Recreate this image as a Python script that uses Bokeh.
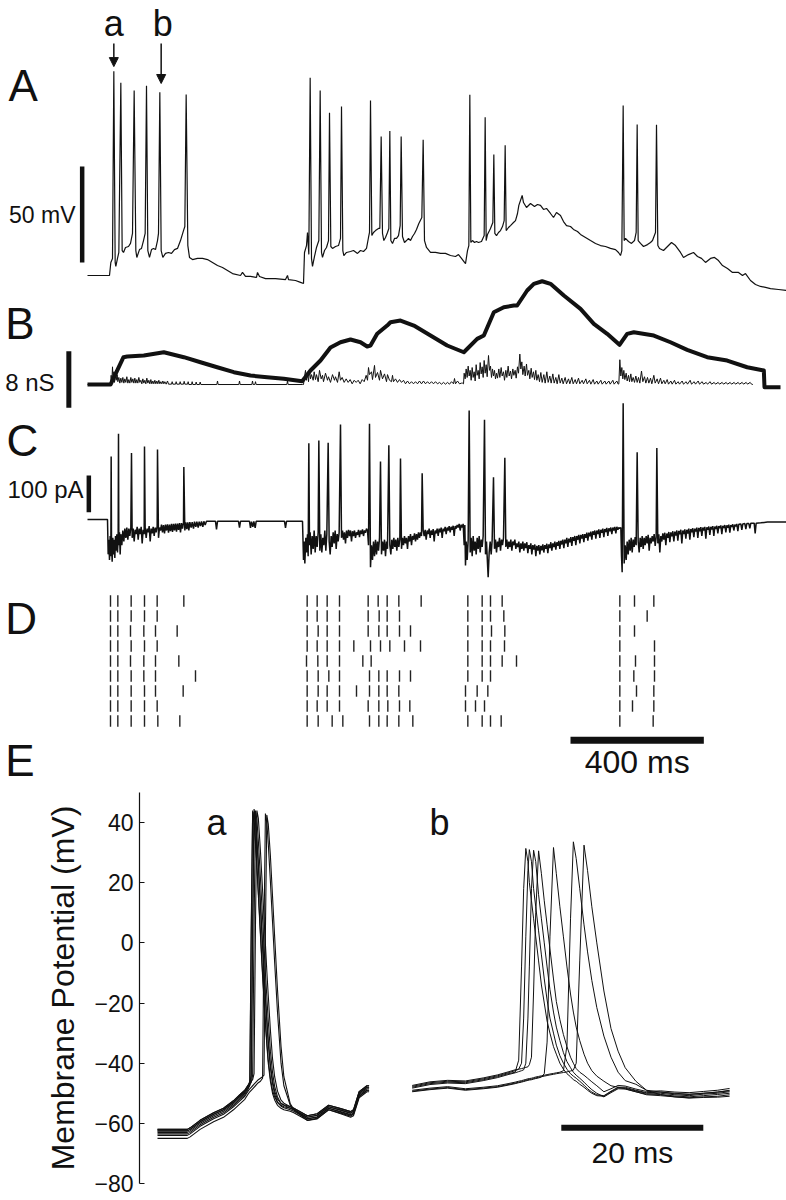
from bokeh.plotting import figure
from bokeh.models import Range1d, LinearAxis, FixedTicker, Label, Arrow, NormalHead
from bokeh.layouts import column, row
from bokeh.embed import file_html
from bokeh.resources import INLINE

FONT = "Liberation Sans"
INK = "#111111"

# ---------------- Panel A : membrane potential (time ms, mV) ----------------
a_base = [(0,-63.0),(66,-63.0),(70,-56.2),(75,-54.1),(83,-56.2),(85,-58.3),(90,-54.1),(94,-51.0),(104,-50.0),(108,-51.0),
(114,-48.4),(123,-47.9),(129,-46.3),(135,-41.1),(145,-50.0),(148,-53.6),(156,-49.5),(162,-48.9),(168,-44.8),(173,-41.1),
(181,-50.0),(186,-53.6),(192,-49.5),(198,-48.9),(204,-49.5),(210,-44.8),(213,-41.1),(221,-50.0),(226,-53.6),(234,-51.5),
(243,-51.0),(252,-51.5),(261,-49.5),(270,-48.9),(279,-44.8),(288,-39.6),(292,-37.5),(301,-47.4),(306,-53.6),(315,-54.7),
(330,-54.1),(345,-54.1),(360,-54.7),(375,-56.2),(390,-57.8),(405,-58.8),(420,-60.4),(435,-62.0),(459,-63.0),(465,-61.4),
(474,-63.5),(489,-63.5),(507,-64.0),(510,-61.4),(516,-63.5),(534,-64.6),(564,-64.6),(594,-65.1),(600,-63.0),(603,-65.1),
(624,-65.6),(639,-66.6),(648,-67.2),(651,-51.0),(657,-47.4),(660,-40.6),(664,-52.0),(672,-54.1),(675,-58.3),(681,-53.1),
(687,-48.4),(694,-44.8),(702,-51.0),(705,-53.6),(711,-50.0),(717,-48.4),(723,-44.8),(730,-47.9),(735,-48.9),(744,-47.9),
(753,-47.4),(759,-43.7),(766,-50.0),(769,-52.6),(777,-51.0),(789,-50.5),(798,-50.0),(810,-51.5),(819,-50.0),(828,-50.5),
(837,-48.9),(843,-43.2),(846,-40.6),(853,-42.2),(858,-40.6),(864,-39.6),(873,-38.5),(877,-38.5),(885,-41.1),(889,-44.8),
(894,-43.2),(900,-40.6),(904,-38.5),(910,-44.8),(915,-46.3),(921,-43.7),(927,-43.7),(933,-42.2),(938,-37.0),(945,-42.7),
(951,-45.8),(957,-44.8),(963,-43.7),(969,-44.8),(975,-42.7),(981,-41.1),(987,-39.0),(994,-35.9),(1003,-32.8),(1011,-44.8),
(1017,-48.4),(1029,-51.0),(1044,-51.0),(1059,-51.5),(1074,-51.5),(1089,-52.6),(1104,-53.1),(1113,-52.1),(1122,-54.1),(1131,-56.2),
(1134,-56.8),(1140,-50.0),(1144,-47.4),(1150,-45.8),(1155,-44.8),(1161,-45.8),(1167,-45.3),(1173,-45.8),(1182,-45.3),(1190,-42.2),
(1196,-44.8),(1200,-41.6),(1206,-39.6),(1209,-38.5),(1216,-35.4),(1222,-41.1),(1227,-42.2),(1233,-40.6),(1239,-39.6),(1245,-37.5),
(1250,-34.4),(1256,-39.6),(1263,-38.0),(1269,-37.0),(1278,-35.4),(1284,-34.4),(1290,-30.7),(1294,-26.5),(1304,-21.3),(1308,-25.0),
(1317,-27.6),(1329,-25.5),(1341,-27.1),(1350,-26.0),(1359,-26.5),(1368,-28.6),(1377,-28.1),(1389,-30.7),(1398,-32.8),(1407,-30.2),
(1419,-31.8),(1428,-34.9),(1437,-37.0),(1449,-37.5),(1458,-39.0),(1470,-40.1),(1479,-41.6),(1494,-43.2),(1509,-44.8),(1524,-46.3),
(1539,-47.4),(1554,-47.9),(1569,-48.9),(1584,-49.5),(1593,-51.0),(1599,-52.6),(1603,-50.0),(1610,-44.8),(1614,-43.7),(1623,-45.3),
(1632,-46.3),(1641,-44.8),(1646,-40.6),(1652,-44.8),(1659,-46.3),(1668,-47.9),(1680,-46.9),(1689,-45.8),(1695,-44.8),(1704,-40.6),
(1711,-47.4),(1716,-48.9),(1728,-50.0),(1740,-47.9),(1752,-45.8),(1764,-47.4),(1779,-51.0),(1788,-53.6),(1803,-52.1),(1818,-51.0),
(1830,-53.1),(1842,-54.1),(1854,-56.2),(1869,-54.1),(1881,-53.6),(1893,-55.2),(1905,-57.8),(1920,-59.4),(1935,-61.4),(1953,-61.4),
(1965,-63.0),(1974,-62.0),(1989,-65.6),(2004,-67.7),(2019,-68.7),(2034,-69.2),(2049,-69.8),(2073,-70.3),(2097,-70.8)]
a_spike_t = [79,100,140,177,217,296,668,698,726,762,849,881,907,941,1007,1147,1193,1219,1253,1607,1649,1707]
a_spike_v = [43.4,37.4,33.3,35.8,32.5,31.3,40.0,33.3,21.7,25.0,28.1,9.4,12.2,9.4,7.7,31.1,19.4,0.0,4.9,25.5,15.6,15.5]

# ---------------- Panel B : conductance (time ms, nS) ----------------
b_thick = [(0,0),(69,0),(108,3.86),(119,3.95),(169,4.10),(229,4.56),(289,3.86),(339,3.15),(389,2.44),(439,1.74),(489,1.27),
(539,1.03),(589,0.81),(644,0.47),(669,1.98),(699,3.39),(729,5.23),(759,5.97),(789,6.36),(819,5.97),(839,5.37),(849,5.5),
(869,7.16),(899,8.33),(909,8.80),(939,9.04),(979,8.33),(1029,6.92),(1079,5.51),(1129,4.56),(1169,6.45),(1189,6.92),(1219,10.21),
(1249,10.92),(1279,11.16),(1289,11.16),(1319,13.28),(1339,14.22),(1364,14.59),(1389,14.22),(1429,12.57),(1479,10.69),(1519,8.57),
(1559,7.16),(1596,5.61),(1619,7.16),(1639,7.39),(1699,6.92),(1749,5.97),(1799,4.90),(1859,3.86),(1919,3.39),(1979,2.44),
(2029,1.98),(2031,-0.38),(2079,-0.38)]
b_thin = [(0,0),(69,0),(71,1.3),(73,0.3),(75,2.5),(77,0.6),(79,1.8),(81,0.3),(84,2.0),(86,0.6),(89,1.4),(91,0.4),(94,1.0),(97,0.2),
(100,0.9),(103,0.3),(106,1.0),(109,0.2),(112,0.8),(115,0.3),(118,1.1),(121,0.2),(124,0.7),(127,0.2),(130,1.0),(133,0.3),(136,0.8),
(139,0.2),(142,0.9),(145,0.2),(148,0.7),(151,0.2),(154,1.0),(157,0.3),(160,0.6),(163,0.1),(166,0.8),(169,0.2),(172,0.6),(175,0.1),
(178,0.9),(181,0.2),(184,0.6),(187,0.1),(190,0.7),(193,0.1),(196,0.5),(199,0.1),(202,0.6),(205,0.1),(208,0.5),(211,0.1),(214,0.6),
(217,0.1),(220,0.4),(223,0.1),(226,0.5),(229,0.1),(232,0.4),(236,0.05),(240,0.5),(243,0.05),(252,0.05),(254,0.4),(256,0.05),
(264,0.05),(266,0.4),(268,0.05),(276,0.05),(278,0.4),(280,0.05),(288,0.05),(290,0.45),(292,0.05),(300,0.05),(302,0.4),(304,0),
(312,0),(314,0.4),(316,0),(324,0),(326,0.35),(328,0),(336,0),(338,0.35),(340,0),(388,0),(390,0.5),(392,0),(454,0),(456,0.5),
(458,0),(493,0),(495,0.5),(497,0),(502,0),(504,0.4),(506,0),(598,0),(600,0.5),(602,0),(645,0),
(648,0),(651,1.1),(654,2.0),(657,0.6),(660,1.7),(663,0.4),(666,2.1),(669,0.8),(672,1.4),(677,0.6),(680,1.8),(684,0.7),(687,1.4),
(692,0.4),(696,2.0),(701,0.8),(705,1.3),(708,0.4),(714,1.6),(720,0.6),(723,1.1),(729,0.3),(735,1.4),(741,0.6),(744,1.1),(750,0.3),
(755,1.8),(759,0.6),(764,1.0),(770,0.3),(776,0.8),(782,0.3),(788,0.7),(794,0.1),(800,0.6),(806,0.3),(812,0.6),(818,0.1),(824,0.7),
(830,0.4),(836,1.3),(840,0.6),(843,2.4),(846,1.4),(852,1.8),(855,0.7),(861,2.7),(864,1.0),(870,1.7),(876,0.6),(879,2.0),(885,0.8),
(891,1.5),(897,0.4),(900,1.4),(906,0.6),(912,0.4),(915,1.3),(918,0.4),(924,0.8),(930,0.3),(936,0.7),(942,0.3),(948,0.6),(954,0.1),
(960,0.5),(966,0.1),(972,0.4),(978,0.1),(984,0.4),(990,0.1),(996,0.5),(1002,0.1),(1008,0.5),(1014,0.1),(1020,0.4),(1026,0.1),
(1032,0.4),(1038,0.1),(1044,0.4),(1050,0.1),(1056,0.3),(1062,0.05),(1068,0.3),(1074,0.05),(1080,0.3),(1086,0.05),(1092,0.4),
(1098,0.1),(1101,0.85),(1104,0.1),(1110,0.5),(1116,0.1),(1122,0.2),
(1125,0.2),(1128,0.1),(1130,1.6),(1133,0.8),(1136,2.2),(1139,1.0),(1142,2.6),(1145,1.2),(1148,2.0),(1151,0.6),(1154,2.4),(1157,1.0),
(1160,1.8),(1163,0.5),(1166,2.8),(1169,1.3),(1172,2.0),(1175,0.8),(1178,3.1),(1181,1.5),(1184,2.5),(1187,1.0),(1190,3.4),(1193,1.6),
(1196,2.8),(1199,1.1),(1203,4.1),(1206,2.0),(1209,2.6),(1212,1.0),(1215,2.2),(1218,1.2),(1221,2.0),(1224,0.8),(1227,1.6),(1230,0.9),
(1234,2.2),(1237,1.0),(1241,2.4),(1244,1.2),(1248,1.8),(1251,0.6),(1255,2.0),(1258,1.0),(1262,2.6),(1265,1.2),(1269,1.9),(1272,0.8),
(1276,2.2),(1279,1.3),(1283,2.0),(1286,0.9),(1290,2.5),(1293,1.6),(1297,4.3),(1300,2.2),(1303,3.2),(1306,1.4),(1310,2.6),(1313,1.2),
(1317,2.9),(1320,1.3),(1324,2.0),(1327,0.8),(1331,2.3),(1334,1.0),(1338,1.8),(1341,0.7),(1345,2.0),(1348,0.6),(1352,1.4),(1356,0.4),
(1360,1.7),(1364,0.3),(1369,1.4),(1373,0.2),(1378,1.8),(1382,0.3),(1387,1.2),(1391,0.2),(1396,1.5),(1400,0.2),(1405,1.0),(1409,0.1),
(1414,1.4),(1418,0.2),(1423,0.9),(1427,0.1),(1433,1.0),(1437,0.1),(1443,0.8),(1447,0.1),(1453,1.0),(1457,0.1),(1463,0.7),(1467,0.1),
(1473,0.9),(1477,0.1),(1484,0.6),(1488,0.1),(1495,0.8),(1499,0.1),(1506,0.6),(1510,0.05),(1517,0.7),(1521,0.05),(1528,0.5),(1532,0.05),
(1540,0.6),(1544,0.05),(1552,0.5),(1556,0.05),(1564,0.5),(1568,0.05),(1576,0.6),(1580,0.05),(1588,0.5),(1592,0.05),
(1594,0.1),(1597,3.5),(1600,1.2),(1603,2.4),(1606,0.8),(1609,2.0),(1612,0.7),(1616,1.6),(1619,0.5),(1623,1.3),(1626,0.4),(1630,1.5),
(1633,0.4),(1637,1.0),(1641,0.3),(1645,1.2),(1649,0.3),(1653,1.0),(1657,0.2),(1662,1.9),(1666,0.4),(1671,1.1),(1675,0.2),(1680,1.0),
(1684,0.2),(1689,0.9),(1693,0.1),(1699,1.3),(1703,0.2),(1709,0.8),(1713,0.1),(1719,0.9),(1723,0.1),(1729,0.6),(1733,0.1),(1739,0.7),
(1743,0.05),(1750,0.5),(1754,0.05),(1761,0.6),(1765,0.05),(1772,0.4),(1776,0.05),(1784,0.5),(1788,0.05),(1796,0.4),(1800,0.05),
(1808,0.6),(1812,0.05),(1820,0.4),(1824,0.05),(1832,0.5),(1836,0.05),(1844,0.4),(1848,0.05),(1856,0.3),(1860,0.05),(1868,0.4),
(1872,0.05),(1880,0.3),(1884,0.05),(1892,0.3),(1896,0.05),(1904,0.3),(1908,0.05),(1916,0.3),(1920,0.05),(1928,0.3),(1932,0.05),
(1940,0.3),(1944,0.05),(1952,0.3),(1956,0.05),(1964,0.3),(1968,0.05),(1976,0.3),(1980,0.05),(1988,0.3),(1992,0.05),(1996,0)]

# ---------------- Panel C : membrane current (time ms, pA) ----------------
c_base = [(0,0),(60,0),(62,-95),(64,-55),(66,-110),(68,-45),(70,-100),(72,-60),(74,-115),(76,-50),(78,-95),(80,-55),(82,-105),
(84,-45),(86,-85),(88,-40),(90,-90),(92,-50),(94,-70),(96,-35),(98,-95),(100,-40),(103,-70),(106,-30),(109,-60),(112,-25),(115,-50),
(118,-22),(121,-55),(124,-25),(127,-45),(130,-22),(134,-50),(137,-25),(140,-60),(143,-28),(146,-40),(149,-20),(152,-55),(155,-25),
(158,-40),(161,-20),(164,-65),(167,-28),(170,-40),(173,-22),(176,-50),(179,-25),(182,-35),(185,-18),(188,-60),(191,-25),(194,-38),
(197,-20),(200,-45),(203,-22),(206,-35),(209,-18),(213,-50),(216,-22),(219,-30),(222,-14),(225,-35),(228,-15),(231,-38),(234,-14),
(237,-30),(240,-13),(243,-36),(246,-14),(249,-32),(252,-12),(255,-34),(258,-12),(261,-30),(264,-11),(267,-33),(270,-11),(273,-28),
(276,-10),(279,-35),(282,-10),(285,-25),(288,-9),(292,-30),(295,-8),(298,-26),(301,-8),(304,-30),(307,-7),(311,-22),(314,-7),
(318,-25),(321,-6),(325,-20),(328,-6),(332,-22),(335,-6),(339,-18),(342,-5),(346,-20),(349,-5),(353,-15),(357,-5),(384,-5),
(387,-27),(390,-5),(453,-5),(456,-22),(459,-5),(486,-5),(489,-23),(492,-6),(496,-20),(499,-5),(503,-23),(506,-5),(591,-5),
(594,-23),(597,-5),(645,-5),
(648,-110),(650,-60),(652,-120),(655,-50),(657,-90),(660,-40),(662,-100),(666,-70),(668,-35),(671,-95),(674,-45),(677,-80),
(680,-30),(683,-90),(686,-45),(689,-75),(692,-35),(697,-85),(700,-40),(703,-90),(706,-50),(709,-70),(712,-30),(715,-85),(718,-40),
(725,-60),(728,-95),(731,-45),(734,-75),(737,-35),(740,-65),(743,-30),(746,-80),(749,-40),(752,-60),(755,-35),(762,-50),(765,-30),
(768,-55),(771,-35),(774,-65),(777,-30),(780,-50),(783,-28),(786,-45),(789,-30),(792,-60),(795,-32),(798,-45),(801,-30),(804,-50),
(807,-35),(810,-42),(813,-28),(816,-48),(819,-30),(822,-40),(825,-27),(828,-45),(831,-30),(834,-36),(837,-25),(840,-30),(843,-70),
(849,-130),(852,-70),(855,-110),(858,-60),(861,-100),(864,-55),(867,-95),(870,-60),(873,-85),(876,-50),(882,-95),(885,-60),
(888,-85),(891,-55),(894,-100),(897,-60),(900,-80),(907,-70),(910,-95),(913,-55),(916,-80),(919,-50),(922,-75),(925,-55),(928,-85),
(931,-50),(934,-75),(937,-55),(942,-80),(945,-50),(948,-70),(951,-45),(954,-65),(957,-50),(960,-80),(963,-45),(966,-60),(969,-40),
(972,-70),(975,-45),(978,-55),(981,-38),(984,-60),(987,-40),(990,-55),(993,-35),(996,-50),(999,-35),(1002,-45),(1007,-30),
(1010,-45),(1013,-28),(1016,-55),(1019,-30),(1022,-40),(1025,-25),(1028,-50),(1031,-30),(1034,-42),(1037,-26),(1040,-60),(1043,-30),
(1046,-38),(1049,-25),(1052,-45),(1055,-25),(1058,-35),(1061,-22),(1064,-50),(1067,-25),(1070,-32),(1073,-20),(1076,-40),(1079,-22),
(1082,-30),(1085,-18),(1088,-35),(1091,-20),(1094,-28),(1097,-17),(1100,-45),(1103,-18),(1106,-25),(1109,-15),(1112,-22),(1115,-12),
(1118,-30),(1121,-14),(1124,-22),(1127,-12),(1130,-70),(1132,-15),
(1134,-125),(1136,-60),(1139,-110),(1142,-55),(1148,-90),(1151,-50),(1154,-100),(1157,-45),(1160,-85),(1163,-60),(1166,-95),
(1169,-50),(1172,-80),(1175,-45),(1178,-90),(1181,-55),(1184,-75),(1187,-45),(1194,-95),(1197,-60),(1200,-120),(1202,-157),
(1205,-90),(1208,-60),(1211,-95),(1214,-55),(1221,-80),(1224,-55),(1227,-90),(1230,-60),(1233,-75),(1236,-50),(1239,-85),(1242,-55),
(1245,-70),(1248,-50),(1255,-75),(1258,-55),(1261,-80),(1264,-60),(1267,-75),(1270,-55),(1273,-85),(1276,-60),(1279,-70),(1282,-55),
(1285,-80),(1288,-65),(1291,-75),(1294,-60),(1297,-90),(1300,-65),(1303,-80),(1306,-60),(1309,-85),(1312,-65),(1315,-78),(1318,-62),
(1321,-92),(1324,-70),(1327,-80),(1330,-65),(1333,-95),(1336,-70),(1339,-82),(1342,-68),(1345,-100),(1348,-72),(1351,-85),(1354,-70),
(1357,-95),(1360,-72),(1363,-84),(1366,-68),(1369,-90),(1372,-70),(1375,-80),(1378,-66),(1381,-92),(1384,-68),(1387,-78),(1390,-62),
(1393,-85),(1396,-65),(1399,-75),(1402,-60),(1405,-82),(1408,-62),(1411,-72),(1414,-58),(1417,-80),(1420,-58),(1423,-68),(1426,-55),
(1429,-78),(1432,-55),(1435,-65),(1438,-50),(1441,-75),(1444,-52),(1447,-62),(1450,-48),(1453,-72),(1456,-48),(1459,-58),(1462,-45),
(1465,-70),(1468,-45),(1471,-55),(1474,-42),(1477,-65),(1480,-42),(1483,-52),(1486,-40),(1489,-62),(1492,-40),(1495,-50),(1498,-36),
(1501,-58),(1504,-36),(1507,-46),(1510,-33),(1513,-55),(1516,-32),(1519,-42),(1522,-30),(1525,-52),(1528,-30),(1531,-40),(1534,-27),
(1537,-50),(1540,-28),(1543,-36),(1546,-25),(1549,-48),(1552,-26),(1555,-34),(1558,-23),(1561,-45),(1564,-24),(1567,-32),(1570,-22),
(1573,-40),(1576,-22),(1579,-30),(1582,-20),(1585,-38),(1588,-20),(1591,-28),(1594,-22),(1597,-24),
(1600,-22),(1602,-100),(1604,-144),(1610,-120),(1613,-70),(1616,-110),(1619,-60),(1622,-95),(1625,-55),(1628,-85),(1631,-50),
(1634,-90),(1637,-55),(1640,-75),(1643,-48),(1646,-70),(1652,-60),(1655,-90),(1658,-50),(1661,-75),(1664,-45),(1667,-80),(1670,-50),
(1673,-70),(1676,-45),(1679,-65),(1682,-42),(1685,-85),(1688,-50),(1691,-65),(1694,-45),(1697,-60),(1700,-40),(1703,-72),(1706,-48),
(1711,-65),(1714,-40),(1717,-90),(1720,-45),(1723,-60),(1726,-38),(1729,-55),(1732,-36),(1735,-70),(1738,-38),(1741,-50),(1744,-34),
(1747,-62),(1750,-35),(1753,-46),(1756,-32),(1759,-60),(1762,-33),(1765,-44),(1768,-30),(1771,-58),(1774,-31),(1777,-40),(1780,-28),
(1783,-65),(1786,-30),(1789,-40),(1792,-27),(1795,-52),(1798,-28),(1801,-38),(1804,-25),(1807,-55),(1810,-26),(1813,-35),(1816,-24),
(1819,-48),(1822,-25),(1825,-33),(1828,-22),(1831,-50),(1834,-23),(1837,-32),(1840,-21),(1843,-45),(1846,-22),(1849,-30),(1852,-20),
(1855,-52),(1858,-21),(1861,-28),(1864,-19),(1867,-42),(1870,-20),(1873,-27),(1876,-18),(1879,-45),(1882,-19),(1885,-26),(1888,-17),
(1891,-38),(1894,-18),(1897,-24),(1900,-16),(1903,-40),(1906,-17),(1909,-23),(1912,-15),(1915,-35),(1918,-16),(1921,-22),(1924,-14),
(1927,-36),(1930,-15),(1933,-20),(1936,-13),(1939,-30),(1942,-14),(1945,-19),(1948,-12),(1951,-32),(1954,-13),(1960,-12),(1963,-28),
(1966,-12),(1972,-11),(1975,-26),(1978,-11),(1984,-11),(1987,-24),(1990,-10),(2000,-10),(2003,-38),(2006,-10),(2020,-9),(2030,-8),
(2040,-7),(2097,-7)]
c_spike_t = [71,93,132,171,210,289,664,694,722,759,846,879,904,939,1004,1145,1191,1218,1252,1607,1649,1708]
c_spike_i = [172,234,181,199,191,143,208,215,209,259,261,158,202,166,126,297,272,115,168,317,183,195]

# ---------------- Panel D : spike rasters, 9 trials (ms) ----------------
d_trial_1 = [69,91,131,171,209,289,659,689,719,756,842,872,899,934,1001,1141,1184,1209,1244,1597,1641,1699]
d_trial_2 = [69,91,131,171,209,659,689,719,756,842,875,899,936,1141,1184,1209,1249,1597,1679]
d_trial_3 = [69,91,129,169,204,269,659,692,719,756,842,874,899,936,969,1141,1184,1212,1252,1597,1641]
d_trial_4 = [69,91,131,171,209,659,689,719,756,799,849,879,907,951,999,1141,1184,1209,1251,1597,1701]
d_trial_5 = [69,91,129,169,204,274,657,691,719,756,826,851,1141,1184,1209,1244,1287,1597,1644,1701]
d_trial_6 = [69,91,131,169,204,324,659,692,724,756,846,874,899,936,969,1141,1184,1209,1597,1639,1701]
d_trial_7 = [69,91,131,171,204,287,659,692,719,756,807,846,874,899,934,1134,1169,1201,1597,1647,1699]
d_trial_8 = [69,91,131,171,209,659,689,719,756,842,874,901,936,967,1134,1164,1191,1597,1635,1699]
d_trial_9 = [69,91,131,171,211,277,659,692,734,766,846,874,899,934,976,1141,1184,1209,1241,1597,1697]
D_TRIALS = [d_trial_1, d_trial_2, d_trial_3, d_trial_4, d_trial_5, d_trial_6, d_trial_7, d_trial_8, d_trial_9]

# ---------------- Panel E(a) : spike "a" overlaid, ms / mV ----------------
ea_t = [0,4.2,4.6,6.0,7.9,9.3,10.7,11.6,12.3,12.7,13.0,13.2,13.4,13.6,13.8,14.0,14.2,14.5,14.8,15.0,
        15.2,15.4,15.6,15.9,16.2,16.5,16.9,17.4,17.8,18.7,19.2,21.1,22.5,24.1,25.8,27.2,27.6,28.4,29.5,29.8]
ea_v1 = [-62.5,-62.5,-62,-59.5,-57,-55.5,-53,-51,-49.5,-48,-46,5,44,41,34,26,17,3.5,-10,-18,
         -26,-33,-39,-45,-49,-51.2,-53,-54,-54.5,-55,-55.5,-58,-57.3,-54.5,-55.6,-56.6,-56,-50,-48,-48]
ea_v2 = [-63.5,-63.5,-63,-60.5,-58,-56.5,-54,-52,-50.5,-49,-47,2,43.5,40,33,25,16,2.5,-11,-19,
         -27,-34,-40,-46,-50,-52.2,-54,-55,-55.5,-56,-56.5,-59,-58.3,-55.5,-56.6,-57.6,-57,-51,-49,-49]
ea_v3 = [-62,-62,-61.5,-59,-56.5,-55,-52.5,-50.5,-49,-47.5,-46.5,-44,6,44.5,41.5,34.5,26.5,13,-0.5,-9.5,
         -17.5,-25.5,-32.5,-40.5,-45.8,-49.3,-52,-53.3,-53.8,-54.5,-55,-57.5,-56.8,-54,-55.1,-56.1,-55.5,-49.5,-47.5,-47.5]
ea_v4 = [-63,-63,-62.5,-60,-57.5,-56,-53.5,-51.5,-50,-48.5,-47.5,-45,3,43.5,40.5,33.5,25.5,12,-1.5,-10.5,
         -18.5,-26.5,-33.5,-41.5,-46.8,-50.3,-53,-54.3,-54.8,-55.5,-56,-58.5,-57.8,-55,-56.1,-57.1,-56.5,-50.5,-48.5,-48.5]
ea_v5 = [-62.5,-62.5,-62,-59.5,-57,-55.5,-53,-51,-49.5,-48,-47,-46.5,-44,5,44,41,34,21.5,8,-1,
         -10,-18,-26,-36,-43,-47.7,-51.2,-53.5,-54,-55,-55.5,-58,-57.3,-54.5,-55.6,-56.6,-56,-50,-48,-48]
ea_v6 = [-62,-62,-61.5,-59,-56.5,-55,-52.5,-50.5,-49,-47.5,-46.5,-46,-45.5,-43.5,6,44,41.5,30.5,17.5,8.5,
         -0.5,-9.5,-17.5,-29,-38.5,-44.5,-49.3,-52.3,-53.3,-54.5,-55,-57.5,-56.8,-54,-55.1,-56.1,-55.5,-49.5,-47.5,-47.5]
ea_v7 = [-65,-65,-64.5,-62,-59.5,-58,-55.5,-53.5,-52,-50.5,-49.5,-49,-48.5,-48,-47.5,-47,-46.5,-46,-45,4,
         43,40,33,20.5,7,-6.5,-23,-40,-47.5,-54,-55.5,-59,-58.5,-55.5,-56.8,-58,-57.5,-51.5,-49.5,-49.5]
ea_v8 = [-64,-64,-63.5,-61,-58.5,-57,-54.5,-52.5,-51,-49.5,-48.5,-48,-47.5,-47,-46.5,-46,-45.5,-45,-44.5,-44,
         4,42.5,39.5,29,15.5,2,-15.5,-34.5,-44.5,-53.5,-55.3,-58.5,-58,-55,-56.3,-57.3,-56.8,-51,-49,-49]

# ---------------- Panel E(b) : spike "b" overlaid, ms / mV ----------------
eb_t = [0,2.5,5,7.5,10,12,13.5,14.5,15.0,15.4,15.7,16.0,16.3,16.5,16.8,17.1,17.4,17.8,18.2,18.6,19.0,19.4,19.9,20.3,
        20.8,21.3,21.8,22.3,22.7,23.1,23.6,24.2,24.7,25.3,26.0,27.0,28.0,29.0,30.0,31.5,33.0,35.0,37.0,39.0,41.0,43.0,44.7]
eb_v1 = [-48,-46.8,-46.3,-46.5,-45.5,-44.5,-43.5,-43,-39,-8,18,31.4,27,20,14,8,2,-6,-14,-20,-26,-30,-34.5,-37,
         -40,-42,-43.5,-44.5,-45.5,-46,-47,-48,-49,-50,-50.8,-51,-49.5,-48.2,-48.3,-49.2,-50,-50,-50.5,-50.8,-50.3,-50,-49.5]
eb_v2 = [-47.7,-46.5,-46,-46.2,-45.2,-44.2,-43.2,-42.5,-42,-40,-25,2,24,31,27,18,12,4,-4,-12,-19,-25,-30,-34,
         -37.5,-40,-42,-43.5,-44.3,-45,-46,-47.3,-48.5,-49.6,-50.5,-50.8,-49.3,-48,-48,-49,-49.8,-49.6,-50.2,-50.4,-50,-49.6,-49]
eb_v3 = [-48.3,-47.1,-46.6,-46.8,-45.8,-44.8,-43.8,-43.2,-42.8,-42.5,-42.2,-40,-25,-8,18,30.8,27,16,8,0,-8,-15.5,-23,-28,
         -32.5,-36.5,-39.5,-41.5,-43,-44,-45,-46.3,-47.5,-48.8,-50,-51.2,-49.8,-48.5,-48.6,-49.5,-50.3,-50.4,-50.9,-51.2,-50.8,-50.4,-50]
eb_v4 = [-47.4,-46.2,-45.7,-45.9,-44.9,-43.9,-42.9,-42.2,-42,-41.8,-41.6,-41.4,-41.2,-40.5,-38,-16,10,30.6,23,14,6,-2,-12,-19.5,
         -25.5,-30.5,-34.5,-38,-40,-41.8,-43,-44,-45,-46.2,-47.5,-49.5,-48.5,-47.4,-47.6,-48.6,-49.4,-49.2,-49.6,-49.8,-49.4,-49,-48.4]
eb_v5 = [-49.5,-48.8,-48.3,-49,-48.5,-48,-47.3,-46.8,-46.5,-46.3,-46.1,-45.9,-45.7,-45.6,-45.5,-45.3,-45.1,-44.9,-44.6,-43.5,-33,2,31.7,23,
         12,2,-8,-17,-23,-28,-32.5,-37,-40,-42.5,-44.3,-46,-47.5,-48,-48.5,-49.5,-50.5,-50.8,-51.2,-51.5,-51.2,-51,-50.5]
eb_v6 = [-49,-48.3,-47.8,-48.5,-48,-47.5,-46.8,-46.3,-46,-45.8,-45.6,-45.4,-45.2,-45.1,-45,-44.8,-44.6,-44.4,-44.2,-44,-43.8,-43.6,-43.4,-43.2,
         -43,-42.5,-34,8,33.6,28,18,6,-3,-12.5,-21.5,-31,-38,-43,-45.8,-47,-49,-49.6,-50,-50.3,-50,-49.6,-49.2]
eb_v7 = [-49.3,-48.6,-48.1,-48.8,-48.3,-47.8,-47.1,-46.6,-46.3,-46.1,-45.9,-45.7,-45.5,-45.4,-45.3,-45.1,-44.9,-44.7,-44.5,-44.3,-44.1,-43.9,-43.7,-43.5,
         -43.3,-43.1,-42.9,-42.6,-42.3,-40,-6,32.5,24,12,0,-16,-28.5,-36,-41.5,-46,-49,-50.5,-51.2,-51.6,-51.4,-51.3,-51]
e_ticks = [-80, -60, -40, -20, 0, 20, 40]

# ---------------- scale bars (values) ----------------
SCALE_MV = 50
SCALE_NS = 8
SCALE_PA = 100
SCALE_MS = 400
SCALE_E_MS = 20


def merged(base, spike_t, spike_v):
    pts = sorted(list(base) + list(zip(spike_t, spike_v)))
    return [p[0] for p in pts], [p[1] for p in pts]


def label(fig, x, y, text, size, align="left", yr="default"):
    # y is the vertical centre of the text
    fig.add_layout(Label(x=x, y=y, text=text, y_range_name=yr,
                         text_font=FONT, text_font_size=size, text_color=INK,
                         text_align=align, text_baseline="middle"))


def clean(fig):
    fig.xgrid.visible = False
    fig.ygrid.visible = False
    fig.outline_line_color = None
    fig.background_fill_color = "white"
    fig.border_fill_color = "white"


# ================= top figure : panels A-D =================
top = figure(width=786, height=790, title=None, x_range=Range1d(-261, 2097), y_range=Range1d(-331.23, 80.23),
             output_backend="svg", toolbar_location=None, x_axis_location=None, y_axis_location=None, min_border=0)
top.extra_y_ranges = {"B": Range1d(-57.34, 54.24), "C": Range1d(-738.5, 1414.3), "D": Range1d(13.633, -39.033)}
clean(top)

# A
at, av = merged(a_base, a_spike_t, a_spike_v)
top.line(at, av, line_color=INK, line_width=1.2)
top.line([-16, -16], [-56.2, -56.2 + SCALE_MV], line_color=INK, line_width=4.5)
label(top, -36, -31.6, "%d mV" % SCALE_MV, "23px", "right")
label(top, -237, 36.1, "A", "44px")
for t_arrow, tip, txt, t_txt in [(a_spike_t[0], 45.8, "a", a_spike_t[0]), (221, 37.0, "b", 226)]:
    top.add_layout(Arrow(end=NormalHead(size=9, fill_color=INK, line_color=INK, line_width=1),
                         x_start=t_arrow, y_start=57.8, x_end=t_arrow, y_end=tip,
                         line_color=INK, line_width=1.5))
    label(top, t_txt, 68.5, txt, "36px", "center")

# B
top.line([p[0] for p in b_thin], [p[1] for p in b_thin], y_range_name="B", line_color=INK, line_width=1.0)
top.line([p[0] for p in b_thick], [p[1] for p in b_thick], y_range_name="B", line_color=INK, line_width=4,
         line_join="round")
top.line([-56, -56], [-3.29, -3.29 + SCALE_NS], y_range_name="B", line_color=INK, line_width=5)
label(top, -99, 0.32, "%d nS" % SCALE_NS, "24px", "right", yr="B")
label(top, -247, 8.64, "B", "44px", yr="B")

# C
ct, ci = merged(c_base, c_spike_t, c_spike_i)
top.line(ct, ci, y_range_name="C", line_color=INK, line_width=1.5)
top.line([4, 4], [19.9, 19.9 + SCALE_PA], y_range_name="C", line_color=INK, line_width=4.5)
label(top, -12, 82.6, "%d pA" % SCALE_PA, "24px", "right", yr="C")
label(top, -243, 215.8, "C", "44px", yr="C")

# D
xs, y0s, y1s = [], [], []
for k, trial in enumerate(D_TRIALS, start=1):
    for t in trial:
        xs.append(t)
        y0s.append(k - 0.38)
        y1s.append(k + 0.38)
top.segment(x0=xs, y0=y0s, x1=xs, y1=y1s, y_range_name="D", line_color="#222222", line_width=1.4)
label(top, -247, 2.153, "D", "44px", yr="D")
top.line([1449, 1449 + SCALE_MS], [10.28, 10.28], y_range_name="D", line_color=INK, line_width=7)
label(top, 1449 + SCALE_MS / 2, 11.76, "%d ms" % SCALE_MS, "32px", "center", yr="D")
label(top, -247, 11.62, "E", "44px", yr="D")

# ================= panel E(a) =================
ea = figure(width=390, height=410, title=None, x_range=Range1d(-2.535, 32.817), y_range=Range1d(-80, 50),
            output_backend="svg", toolbar_location=None, x_axis_location=None, y_axis_location=None,
            min_border_left=139, min_border_right=0, min_border_top=2, min_border_bottom=17)
clean(ea)
ax = LinearAxis(ticker=FixedTicker(ticks=e_ticks), axis_label="Membrane Potential (mV)")
ax.axis_line_color = INK
ax.axis_line_width = 1.2
ax.major_tick_in = 5
ax.major_tick_out = 0
ax.major_tick_line_color = INK
ax.minor_tick_line_color = None
ax.major_label_standoff = 6
ax.major_label_text_font = FONT
ax.major_label_text_font_size = "23px"
ax.major_label_text_color = INK
ax.axis_label_text_font = FONT
ax.axis_label_text_font_size = "32px"
ax.axis_label_text_font_style = "normal"
ax.axis_label_text_color = INK
ax.axis_label_standoff = 10
ea.add_layout(ax, "left")
ea_traces = [ea_v1, ea_v2, ea_v3, ea_v4, ea_v5, ea_v6, ea_v7, ea_v8]
ea.multi_line(xs=[ea_t] * len(ea_traces), ys=ea_traces, line_color=INK, line_width=1.1)
label(ea, 8.3, 39.9, "a", "36px", "center")

# ================= panel E(b) =================
eb = figure(width=396, height=410, title=None, x_range=Range1d(-3.056, 52.718), y_range=Range1d(-80, 50),
            output_backend="svg", toolbar_location=None, x_axis_location=None, y_axis_location=None,
            min_border_left=0, min_border_right=0, min_border_top=2, min_border_bottom=17)
clean(eb)
eb_traces = [eb_v1, eb_v2, eb_v3, eb_v4, eb_v5, eb_v6, eb_v7]
eb.multi_line(xs=[eb_t] * len(eb_traces), ys=eb_traces, line_color=INK, line_width=1.0)
label(eb, 3.85, 39.9, "b", "36px", "center")
eb.line([21.0, 21.0 + SCALE_E_MS], [-61.5, -61.5], line_color=INK, line_width=6)
label(eb, 21.0 + SCALE_E_MS / 2, -69.6, "%d ms" % SCALE_E_MS, "30px", "center")

layout = column(top, row(ea, eb, spacing=0), spacing=0)
open("out.html", "w").write(file_html(layout, INLINE))
